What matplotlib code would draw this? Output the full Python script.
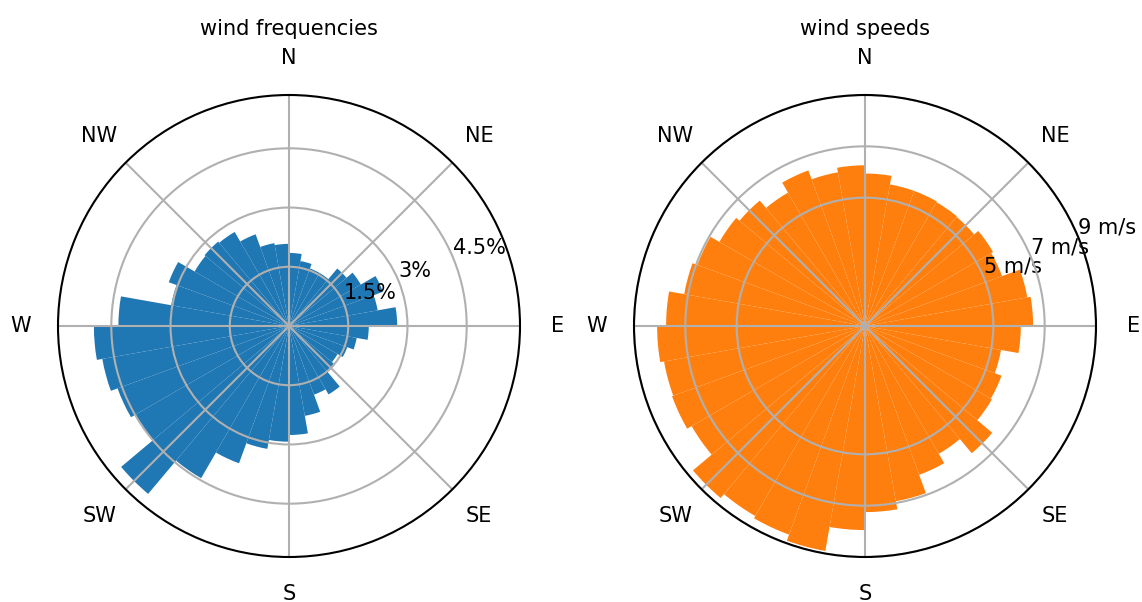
import numpy as np
import matplotlib.pyplot as plt

# 36 direction sectors of 10 degrees, clockwise from north
sector_start = np.arange(0, 360, 10)

# share of observations per sector (%)
freq_pct = [1.85, 1.67, 1.55, 1.55, 1.90, 2.10, 2.53, 2.28, 2.74,
            2.02, 1.74, 1.57, 1.42, 1.52, 2.00, 1.85, 2.31, 2.76,
            2.93, 3.16, 3.70, 4.45, 5.55, 4.50, 4.62, 4.80, 4.94,
            4.32, 3.03, 3.24, 2.76, 2.79, 2.75, 2.47, 2.13, 2.08]

# mean wind speed per sector (m/s)
speed_ms = [5.94, 5.60, 5.60, 5.57, 5.55, 5.76, 5.68, 6.42, 6.55,
            6.07, 5.38, 5.66, 5.71, 6.47, 5.75, 6.17, 6.93, 7.25,
            7.95, 8.90, 8.65, 8.55, 8.75, 7.80, 8.00, 7.95, 8.10,
            7.75, 7.15, 6.95, 6.55, 6.38, 6.00, 6.45, 6.08, 6.26]

compass = ['N', 'NE', 'E', 'SE', 'S', 'SW', 'W', 'NW']

freq_ticks = [1.5, 3, 4.5]
freq_labels = ['1.5%', '3%', '4.5%']
speed_ticks = [5, 7, 9]
speed_labels = ['5 m/s', '7 m/s', '9 m/s']

plt.rcParams['grid.linewidth'] = 1.0
plt.rcParams['axes.linewidth'] = 1.0

fig = plt.figure(figsize=(1142 / 150, 602 / 150), dpi=150)
w, h = 462 / 1142, 462 / 602
ax_f = fig.add_axes([58 / 1142, 45 / 602, w, h], projection='polar')
ax_s = fig.add_axes([634 / 1142, 45 / 602, w, h], projection='polar')


def rose(ax, values, color, ticks, labels, rmax, title):
    theta = np.deg2rad(sector_start)
    ax.set_theta_zero_location('N')
    ax.set_theta_direction(-1)
    ax.bar(theta, values, width=np.deg2rad(10), align='edge',
           color=color, linewidth=0)
    ax.set_thetagrids(np.arange(0, 360, 45), compass)
    ax.set_ylim(0, rmax)
    ax.set_yticks(ticks)
    ax.set_yticklabels(labels)
    ax.set_rlabel_position(67.5)
    ax.tick_params(axis='x', pad=7.5)
    ax.set_title(title, fontsize=10)


rose(ax_f, freq_pct, 'tab:blue', freq_ticks, freq_labels, 5.85, 'wind frequencies')
rose(ax_s, speed_ms, 'tab:orange', speed_ticks, speed_labels, 9, 'wind speeds')

fig.savefig('out.png', dpi=150)
